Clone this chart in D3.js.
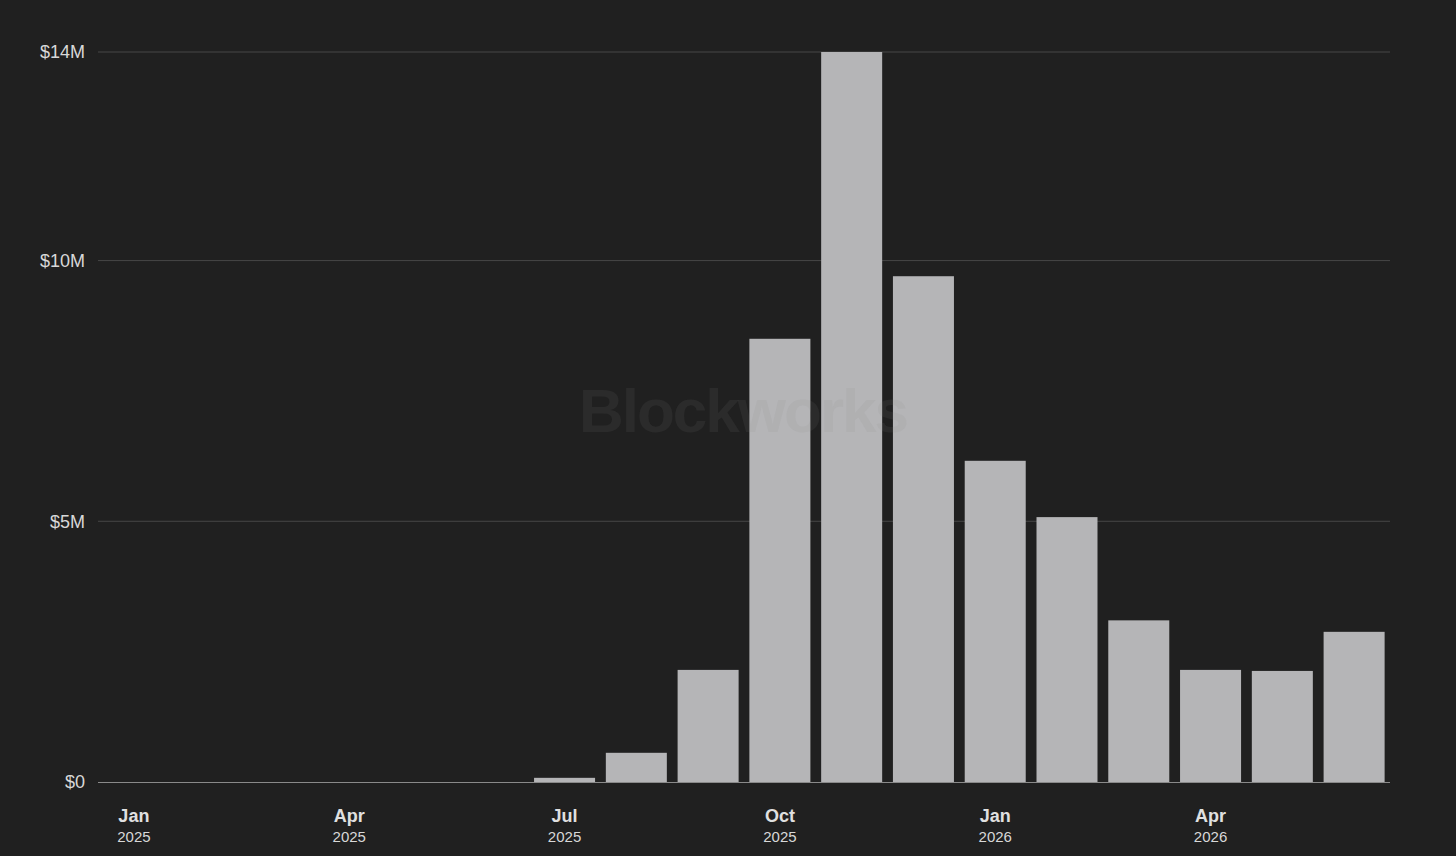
<!DOCTYPE html>
<html>
<head>
<meta charset="utf-8">
<script src="https://cdn.jsdelivr.net/npm/d3@7"></script>
<style>
  body { margin: 0; background: #202020; }
  svg { display: block; font-family: "Helvetica Neue", "Liberation Sans", Arial, sans-serif; }
</style>
</head>
<body>
<div id="chart"></div>
<script>
const months = ["2025-01","2025-02","2025-03","2025-04","2025-05","2025-06","2025-07","2025-08","2025-09",
  "2025-10","2025-11","2025-12","2026-01","2026-02","2026-03","2026-04","2026-05","2026-06"];
const values = [0, 0, 0, 0, 0, 0, 0.08, 0.56, 2.15, 8.5, 14.0, 9.7, 6.16, 5.08, 3.1, 2.15, 2.13, 2.88];
const yTicks = [0, 5, 10, 14];
const xTickMonths = ["2025-01","2025-04","2025-07","2025-10","2026-01","2026-04"];
const monthNames = ["Jan","Feb","Mar","Apr","May","Jun","Jul","Aug","Sep","Oct","Nov","Dec"];

const width = 1456, height = 856;
const margin = { top: 52, right: 66, bottom: 74, left: 98 };

const svg = d3.select("#chart").append("svg")
    .attr("width", width)
    .attr("height", height);

svg.append("rect").attr("width", width).attr("height", height).attr("fill", "#202020");

const x = d3.scaleBand()
    .domain(months)
    .range([margin.left, width - margin.right])
    .paddingInner(0.15)
    .paddingOuter(0.075);

const y = d3.scaleLinear()
    .domain([0, 14])
    .range([height - margin.bottom, margin.top]);

// grid
svg.append("g")
    .selectAll("line")
    .data(yTicks.filter(d => d > 0))
    .join("line")
    .attr("x1", margin.left)
    .attr("x2", width - margin.right)
    .attr("y1", d => y(d))
    .attr("y2", d => y(d))
    .attr("stroke", "#464646")
    .attr("stroke-width", 1);

// bars
svg.append("g")
    .selectAll("rect")
    .data(months.map((m, i) => ({ m, v: values[i] })))
    .join("rect")
    .attr("x", d => x(d.m))
    .attr("y", d => y(d.v))
    .attr("width", x.bandwidth())
    .attr("height", d => y(0) - y(d.v))
    .attr("fill", "#b5b5b7");

// watermark, over the bars
svg.append("text")
    .attr("x", 743)
    .attr("y", 432)
    .attr("text-anchor", "middle")
    .attr("font-size", 62)
    .attr("font-weight", "bold")
    .attr("letter-spacing", -2)
    .attr("fill", "#888888")
    .attr("fill-opacity", 0.11)
    .text("Blockworks");

// baseline
svg.append("line")
    .attr("x1", margin.left)
    .attr("x2", width - margin.right)
    .attr("y1", y(0) + 0.5)
    .attr("y2", y(0) + 0.5)
    .attr("stroke", "#8a8a8a");

// y labels
svg.append("g")
    .selectAll("text")
    .data(yTicks)
    .join("text")
    .attr("x", 85)
    .attr("y", d => y(d))
    .attr("dy", "0.35em")
    .attr("text-anchor", "end")
    .attr("font-size", 18)
    .attr("fill", "#d8d8d8")
    .text(d => "$" + d + (d === 0 ? "" : "M"));

// x labels
const xl = svg.append("g")
    .selectAll("g")
    .data(xTickMonths)
    .join("g")
    .attr("transform", d => `translate(${x(d) + x.bandwidth() / 2},0)`);

xl.append("text")
    .attr("y", 822)
    .attr("text-anchor", "middle")
    .attr("font-size", 18)
    .attr("font-weight", "bold")
    .attr("fill", "#e0e0e0")
    .text(d => monthNames[+d.slice(5) - 1]);

xl.append("text")
    .attr("y", 842)
    .attr("text-anchor", "middle")
    .attr("font-size", 15)
    .attr("fill", "#d8d8d8")
    .text(d => d.slice(0, 4));
</script>
</body>
</html>
